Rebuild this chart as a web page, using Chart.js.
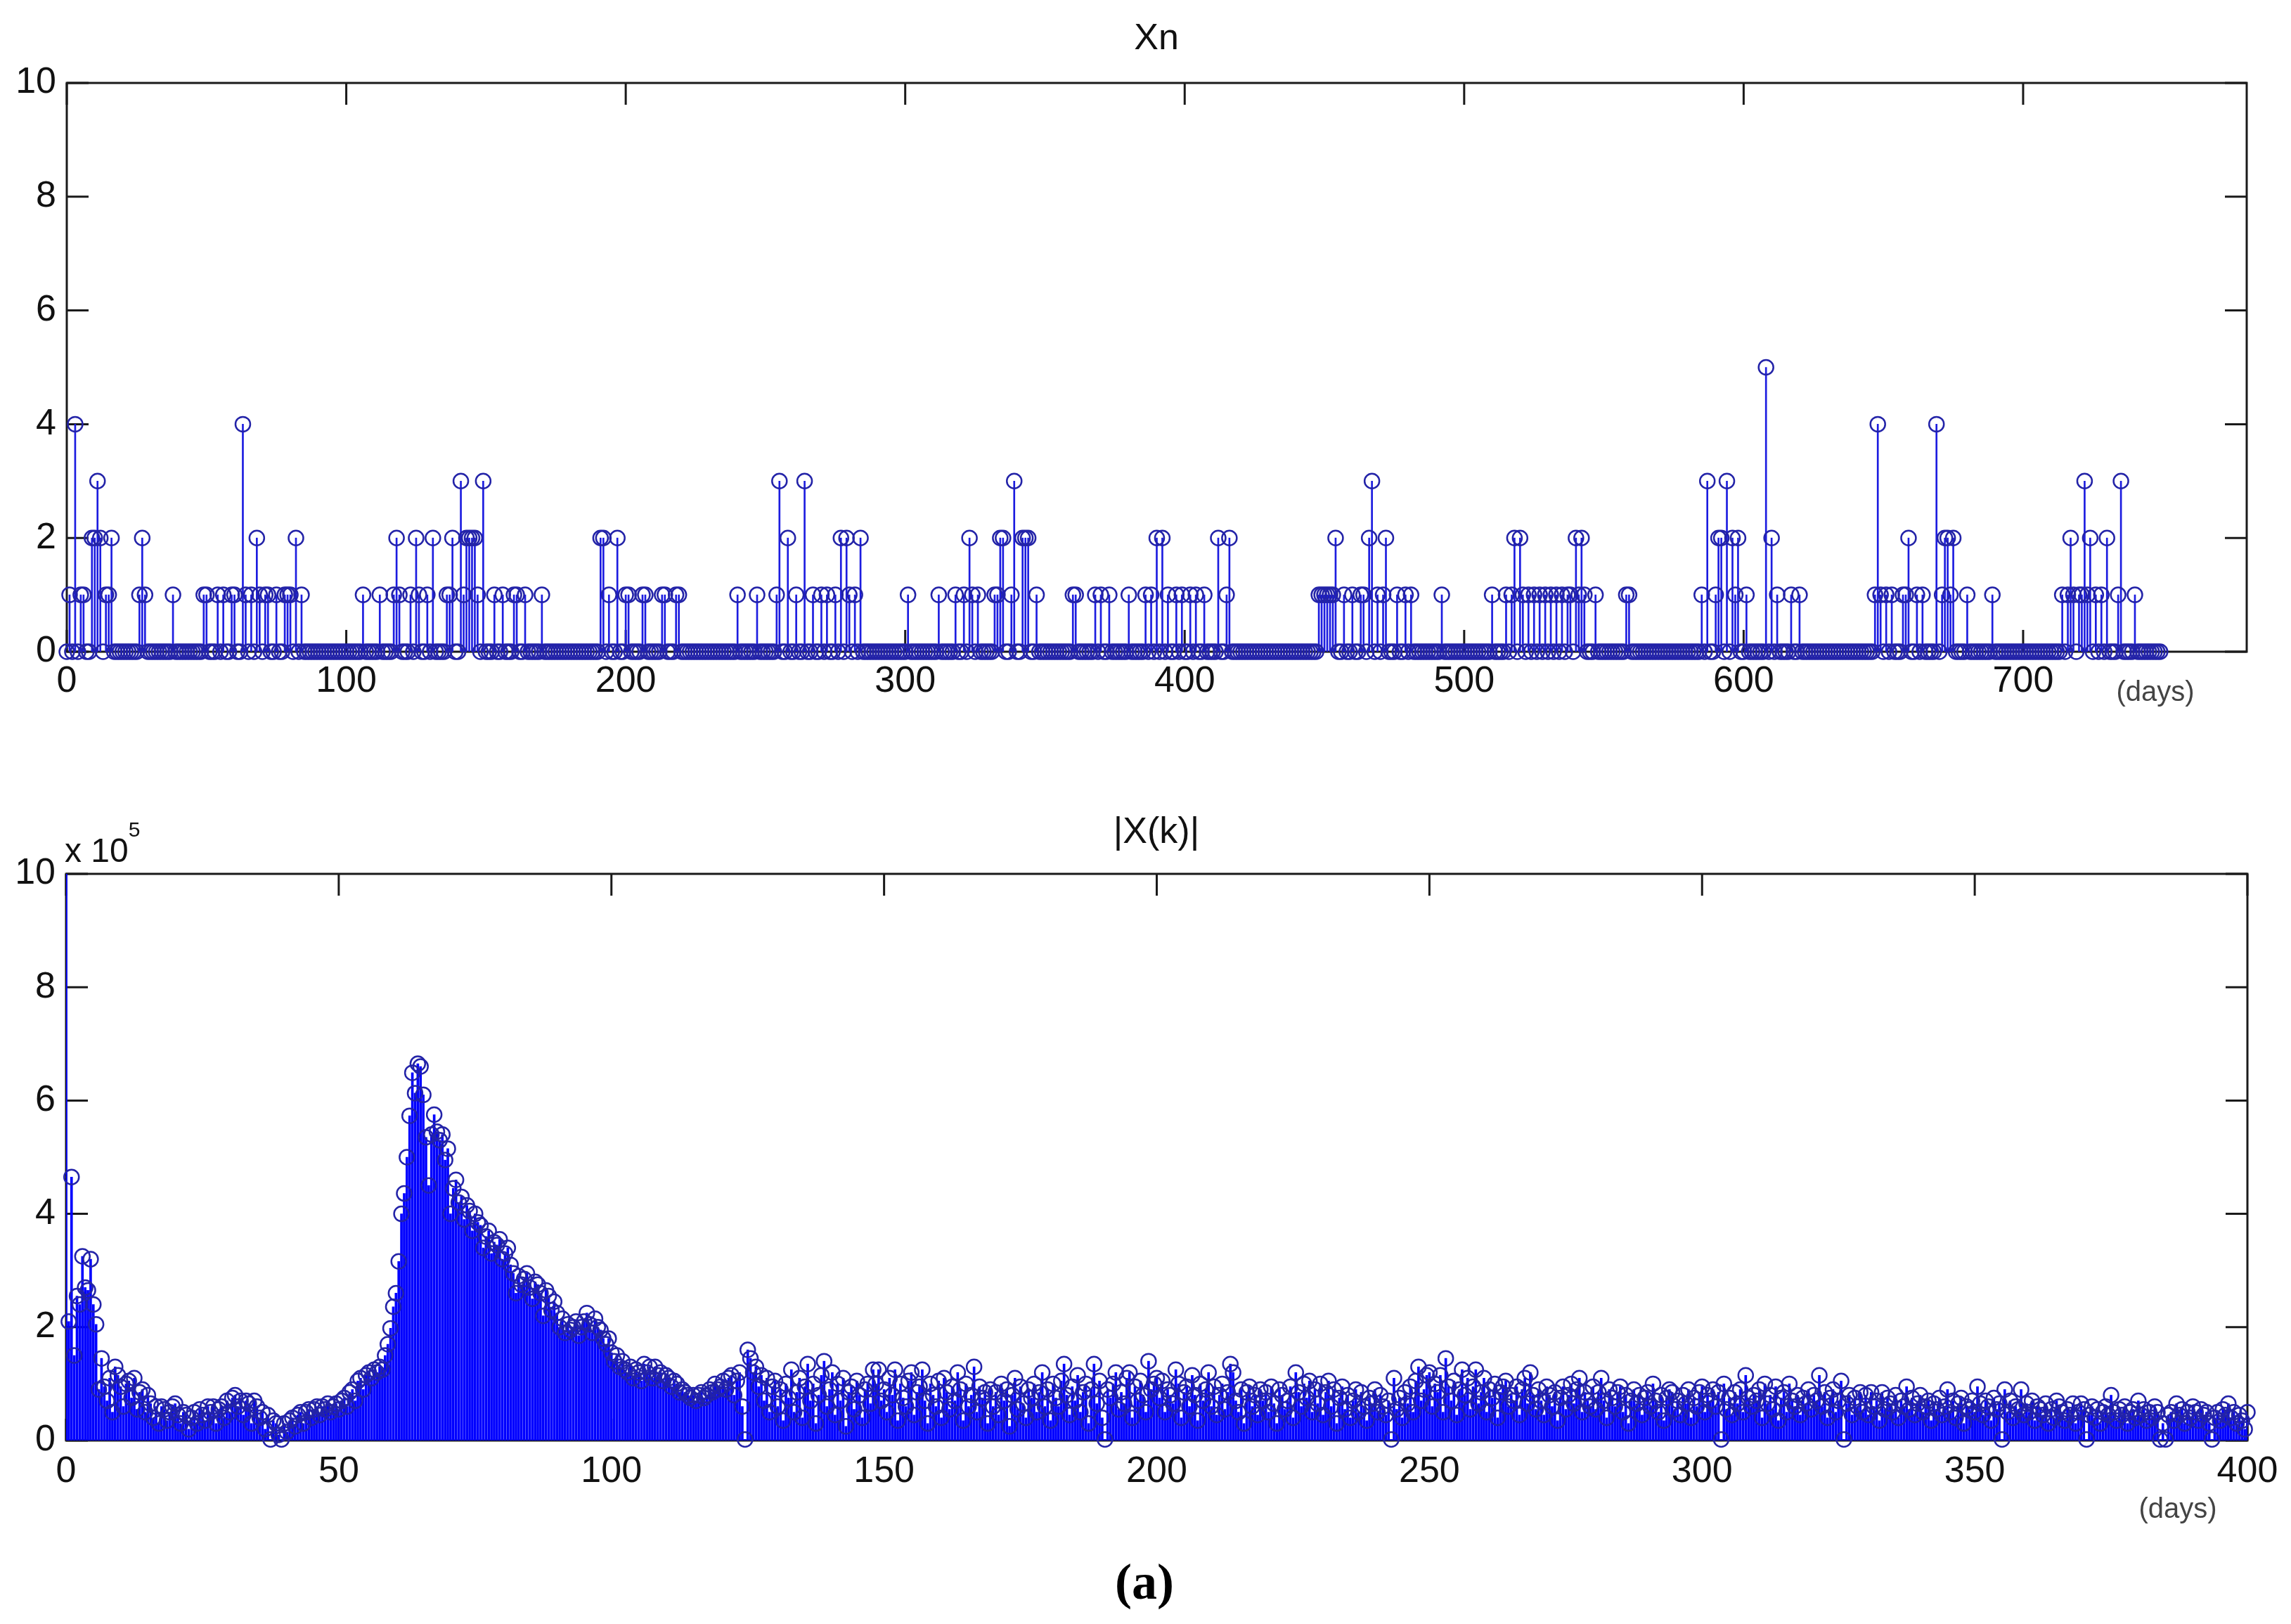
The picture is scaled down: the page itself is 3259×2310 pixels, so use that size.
<!DOCTYPE html>
<html lang="en">
<head>
  <meta charset="UTF-8">
  <title>Xn and |X(k)|</title>
  <script src="https://cdn.jsdelivr.net/npm/chart.js"></script>
  <style>
    body { margin: 0; background: #fff; }
    #page {
      position: relative;
      width: 3259px;
      height: 2310px;
      background: #fff;
      font-family: Arial, "Liberation Sans", sans-serif;
      color: #111;
    }
    canvas { position: absolute; left: 0; }
    #topChart { top: 0; }
    #bottomChart { top: 1070px; }
    .label {
      position: absolute;
      line-height: 1;
      white-space: nowrap;
      transform: translate(-50%, -50%);
    }
    .plot-title { font-size: 52px; }
    .days { font-size: 40px; color: #444; }
    .exponent { position: absolute; left: 92px; top: 1186px; font-size: 48px; line-height: 1; }
    .exponent span { position: relative; top: -36px; font-size: 30px; }
    .panel-label {
      font-family: "Liberation Serif", "Times New Roman", serif;
      font-weight: bold;
      font-size: 72px;
      color: #000;
    }
  </style>
</head>
<body>
<div id="page">
  <canvas id="topChart" width="3259" height="1070"></canvas>
  <canvas id="bottomChart" width="3259" height="1100"></canvas>

  <div class="label plot-title" style="left:1645px; top:52px;">Xn</div>
  <div class="label days" style="left:3066px; top:983px;">(days)</div>

  <div class="label plot-title" style="left:1645px; top:1181px;">|X(k)|</div>
  <div class="exponent">x 10<span>5</span></div>
  <div class="label days" style="left:3098px; top:2145px;">(days)</div>

  <div class="label panel-label" style="left:1628px; top:2250px;">(a)</div>
</div>

<script>
  // ---- Xn: days with a non-zero count, as [day, count]; all other days are 0
  const xnEvents = [
    [1,1],[3,4],[5,1],[6,1],[9,2],[10,2],[11,3],[12,2],[14,1],[15,1],[16,2],
    [26,1],[27,2],[28,1],[38,1],[49,1],[50,1],[54,1],[56,1],[59,1],[60,1],
    [63,4],[64,1],[66,1],[68,2],[69,1],[71,1],[72,1],[75,1],[78,1],[79,1],
    [80,1],[82,2],[84,1],
    [106,1],[112,1],[117,1],[118,2],[119,1],[123,1],[125,2],[126,1],[129,1],
    [131,2],[136,1],[137,1],[138,2],[141,3],[142,1],[143,2],[144,2],[145,2],
    [146,2],[147,1],[149,3],[153,1],[156,1],[160,1],[161,1],[164,1],[170,1],
    [191,2],[192,2],[194,1],[197,2],
    [200,1],[201,1],[206,1],[207,1],[213,1],[214,1],[218,1],[219,1],[240,1],
    [247,1],[254,1],[255,3],[258,2],[261,1],[264,3],[267,1],[270,1],[272,1],
    [275,1],[277,2],[279,2],[280,1],[282,1],[284,2],
    [301,1],[312,1],[318,1],[321,1],[323,2],[324,1],[326,1],[332,1],[333,1],
    [334,2],[335,2],[338,1],[339,3],[342,2],[343,2],[344,2],[347,1],[360,1],
    [361,1],[368,1],[370,1],[373,1],[380,1],[386,1],[388,1],[390,2],[392,2],
    [394,1],[397,1],[399,1],
    [402,1],[404,1],[407,1],[412,2],[415,1],[416,2],[448,1],[449,1],[450,1],
    [451,1],[452,1],[453,1],[454,2],[457,1],[460,1],[463,1],[464,1],[466,2],
    [467,3],[469,1],[471,1],[472,2],[476,1],[479,1],[481,1],[492,1],
    [510,1],[515,1],[517,1],[518,2],[520,2],[521,1],[523,1],[525,1],[527,1],
    [529,1],[531,1],[533,1],[535,1],[537,1],[538,1],[540,2],[541,1],[542,2],
    [543,1],[547,1],[558,1],[559,1],[585,1],[587,3],[590,1],[591,2],[592,2],
    [594,3],[596,2],[597,1],[598,2],
    [601,1],[608,5],[610,2],[612,1],[617,1],[620,1],[647,1],[648,4],[649,1],
    [651,1],[653,1],[657,1],[658,1],[659,2],[662,1],[664,1],[669,4],[671,1],
    [672,2],[673,2],[674,1],[675,2],[680,1],[689,1],
    [714,1],[716,1],[717,2],[718,1],[720,1],[721,1],[722,3],[723,1],[724,2],
    [726,1],[728,1],[730,2],[734,1],[735,3],[740,1]
  ];
  const xnDayCount = 750;               // days 0..749 are plotted
  const xnTicksX = [0, 100, 200, 300, 400, 500, 600, 700];
  const xnTicksY = [0, 2, 4, 6, 8, 10];

  // ---- |X(k)|, in units of 1e5, one value every half day from 0 to 400
  const specStep = 0.5;
  const specValues = [
    10.6, 2.1, 4.65, 1.5, 2.55, 2.4, 3.25, 2.7, 2.65, 3.2, 2.4, 2.05, 0.9, 1.45, 0.95, 0.7, 1.1, 0.5, 1.3, 1.15,
    0.95, 0.6, 1.0, 1.05, 0.75, 1.1, 0.55, 0.85, 0.9, 0.5, 0.8, 0.65, 0.4, 0.6, 0.3, 0.6, 0.55, 0.35, 0.5, 0.6,
    0.65, 0.45, 0.3, 0.5, 0.45, 0.2, 0.4, 0.5, 0.3, 0.55, 0.45, 0.35, 0.6, 0.5, 0.6, 0.3, 0.55, 0.6, 0.4, 0.7,
    0.5, 0.75, 0.8, 0.6, 0.7, 0.45, 0.7, 0.65, 0.3, 0.7, 0.6, 0.4, 0.5, 0.2, 0.45, 0.02, 0.35, 0.3, 0.1, 0.02,
    0.3, 0.15, 0.35, 0.4, 0.25, 0.45, 0.5, 0.3, 0.5, 0.55, 0.4, 0.55, 0.6, 0.45, 0.6, 0.55, 0.65, 0.5, 0.6, 0.65,
    0.55, 0.7, 0.75, 0.6, 0.85, 0.9, 0.7, 1.05, 1.1, 0.9, 1.15, 1.2, 1.1, 1.25, 1.2, 1.3, 1.25, 1.5, 1.7, 1.98,
    2.36, 2.6, 3.16, 4.0, 4.36, 5.0, 5.73, 6.49, 6.13, 6.65, 6.6, 6.1, 5.35, 4.5, 5.4, 5.75, 5.45, 5.3, 5.4, 4.95,
    5.15, 4.0, 4.45, 4.6, 4.2, 4.3, 3.9, 4.15, 4.05, 3.7, 4.0, 3.85, 3.8, 3.4, 3.6, 3.7, 3.3, 3.5, 3.45, 3.55,
    3.2, 3.3, 3.4, 3.1, 2.95, 2.6, 2.9, 2.75, 2.85, 2.95, 2.7, 2.5, 2.8, 2.75, 2.6, 2.2, 2.65, 2.55, 2.3, 2.45,
    2.25, 2.0, 2.15, 1.9, 2.05, 1.95, 2.0, 2.1, 1.85, 2.0, 2.1, 2.25, 2.05, 1.9, 2.15, 2.0, 1.95, 1.8, 1.7, 1.8,
    1.55, 1.4, 1.5, 1.3, 1.4, 1.25, 1.2, 1.3, 1.1, 1.25, 1.2, 1.05, 1.35, 1.2, 1.3, 1.1, 1.3, 1.15, 1.2, 1.05,
    1.15, 1.1, 0.95, 1.05, 1.0, 0.85, 0.9, 0.85, 0.8, 0.75, 0.8, 0.7, 0.8, 0.85, 0.75, 0.8, 0.9, 0.85, 1.0, 0.9,
    0.95, 1.05, 0.9, 1.1, 1.15, 0.8, 1.05, 1.2, 0.6, 0.02, 1.6, 1.45, 1.2, 1.3, 0.95, 1.15, 0.7, 1.1, 0.5, 0.95,
    1.05, 0.6, 0.9, 0.35, 1.0, 0.75, 1.25, 0.5, 0.85, 1.1, 0.4, 0.95, 1.35, 0.7, 1.0, 0.3, 0.8, 1.15, 1.4, 0.6,
    0.9, 1.2, 0.45, 1.0, 0.7, 1.1, 0.25, 0.85, 0.95, 0.55, 1.05, 0.8, 0.4, 0.9, 1.0, 0.65, 1.25, 1.0, 1.25, 0.7,
    0.9, 0.5, 1.1, 0.8, 1.25, 0.35, 1.0, 0.75, 0.6, 1.05, 1.2, 0.45, 0.85, 0.95, 1.25, 0.7, 0.3, 1.0, 0.8, 0.6,
    1.05, 0.4, 1.1, 0.85, 0.55, 0.95, 0.7, 1.2, 0.9, 0.35, 1.0, 0.6, 0.8, 1.3, 0.5, 0.95, 0.75, 0.85, 0.3, 0.9,
    0.6, 0.85, 0.45, 1.0, 0.7, 0.9, 0.25, 0.8, 1.1, 0.55, 0.95, 0.65, 0.4, 0.9, 0.75, 1.0, 0.5, 0.85, 1.2, 0.6,
    0.9, 0.35, 1.0, 0.75, 0.6, 1.05, 1.35, 0.8, 0.45, 0.95, 0.7, 1.15, 0.5, 0.85, 1.0, 0.3, 0.9, 1.35, 0.65, 1.05,
    0.4, 0.02, 0.9, 0.75, 1.0, 1.2, 0.55, 0.85, 0.65, 1.1, 1.2, 0.4, 0.95, 0.7, 1.05, 0.8, 0.5, 1.4, 0.9, 1.0,
    1.1, 0.75, 1.05, 0.5, 0.9, 0.8, 0.65, 1.25, 1.0, 0.4, 0.85, 0.95, 0.6, 1.15, 0.8, 0.35, 1.0, 0.7, 0.9, 1.2,
    0.6, 0.95, 0.45, 0.8, 1.0, 0.55, 0.85, 1.35, 1.2, 0.7, 0.5, 0.9, 0.3, 0.85, 0.95, 0.6, 0.8, 0.45, 0.9, 0.7,
    0.85, 0.5, 0.95, 0.65, 0.3, 0.9, 0.8, 0.55, 0.7, 0.95, 0.4, 1.2, 0.85, 0.6, 1.0, 0.75, 1.05, 0.5, 0.9, 0.65,
    1.0, 0.45, 0.85, 1.05, 0.6, 0.9, 0.3, 0.75, 0.95, 0.55, 0.8, 0.4, 0.7, 0.9, 0.5, 0.85, 0.6, 0.35, 0.75, 0.65,
    0.9, 0.5, 0.8, 0.6, 0.45, 0.7, 0.02, 1.1, 0.55, 0.75, 0.4, 0.85, 0.65, 0.95, 0.5, 1.05, 1.3, 0.7, 0.9, 1.15,
    1.2, 0.6, 1.0, 0.85, 1.15, 0.5, 1.45, 0.95, 0.7, 1.05, 0.45, 0.9, 1.25, 0.8, 1.1, 0.55, 0.95, 1.25, 0.65, 0.85,
    1.1, 0.5, 0.9, 0.75, 1.0, 0.4, 0.85, 0.95, 1.05, 0.6, 0.8, 0.7, 0.95, 0.45, 0.9, 1.1, 0.65, 1.2, 0.8, 0.55,
    0.9, 0.7, 0.45, 0.95, 0.8, 0.6, 0.85, 0.35, 0.75, 0.95, 0.55, 0.8, 1.0, 0.65, 0.9, 1.1, 0.5, 0.85, 0.7, 0.6,
    0.95, 0.55, 0.85, 1.1, 0.7, 0.4, 0.9, 0.75, 0.6, 0.85, 0.95, 0.5, 0.8, 0.3, 0.7, 0.9, 0.65, 0.8, 0.45, 0.75,
    0.85, 0.6, 1.0, 0.7, 0.5, 0.8, 0.35, 0.75, 0.9, 0.85, 0.55, 0.7, 0.45, 0.8, 0.65, 0.9, 0.4, 0.75, 0.6, 0.85,
    0.95, 0.5, 0.8, 0.7, 0.9, 0.6, 0.85, 0.02, 1.0, 0.55, 0.75, 0.45, 0.85, 0.65, 0.9, 0.5, 1.15, 0.75, 0.6, 0.8,
    0.7, 0.9, 0.4, 1.0, 0.65, 0.8, 0.55, 0.95, 0.35, 0.75, 0.85, 0.5, 1.0, 0.7, 0.6, 0.8, 0.45, 0.75, 0.65, 0.9,
    0.55, 0.8, 0.7, 1.15, 0.6, 0.85, 0.4, 0.75, 0.9, 0.5, 0.7, 1.05, 0.02, 0.65, 0.8, 0.45, 0.75, 0.6, 0.85, 0.5,
    0.8, 0.45, 0.85, 0.6, 0.7, 0.35, 0.85, 0.55, 0.75, 0.65, 0.5, 0.8, 0.4, 0.7, 0.6, 0.95, 0.55, 0.75, 0.45, 0.65,
    0.8, 0.5, 0.6, 0.7, 0.35, 0.65, 0.55, 0.75, 0.45, 0.6, 0.9, 0.5, 0.7, 0.4, 0.65, 0.75, 0.3, 0.6, 0.55, 0.7,
    0.5, 0.95, 0.65, 0.45, 0.7, 0.6, 0.35, 0.75, 0.55, 0.65, 0.02, 0.9, 0.5, 0.7, 0.4, 0.6, 0.55, 0.9, 0.45, 0.65,
    0.5, 0.7, 0.35, 0.6, 0.55, 0.45, 0.65, 0.3, 0.55, 0.4, 0.7, 0.6, 0.5, 0.35, 0.55, 0.45, 0.65, 0.3, 0.5, 0.65,
    0.55, 0.02, 0.45, 0.6, 0.4, 0.55, 0.3, 0.5, 0.6, 0.45, 0.8, 0.5, 0.35, 0.55, 0.45, 0.6, 0.3, 0.5, 0.55, 0.4,
    0.7, 0.45, 0.55, 0.35, 0.5, 0.4, 0.6, 0.5, 0.02, 0.3, 0.02, 0.45, 0.5, 0.35, 0.65, 0.45, 0.55, 0.3, 0.5, 0.4,
    0.6, 0.5, 0.35, 0.55, 0.45, 0.5, 0.3, 0.02, 0.4, 0.5, 0.35, 0.55, 0.45, 0.65, 0.4, 0.5, 0.3, 0.45, 0.35, 0.2,
    0.5
  ];
  const specTicksX = [0, 50, 100, 150, 200, 250, 300, 350, 400];
  const specTicksY = [0, 2, 4, 6, 8, 10];

  // ---- build the point lists
  const xnCounts = new Map(xnEvents);
  const xnPoints = [];
  for (let d = 0; d < xnDayCount; d++) {
    xnPoints.push({ x: d, y: xnCounts.get(d) || 0 });
  }
  const xnStems = xnEvents.map(([d, c]) => ({ x: d, y: c }));
  const specPoints = specValues.map((v, i) => ({ x: i * specStep, y: v }));

  const TICK_LEN = 31;
  const tickFont = { family: 'Arial, "Liberation Sans", sans-serif', size: 52 };

  // box around the plot and short inward ticks on all four sides, like matlab
  const boxAxes = {
    id: 'boxAxes',
    beforeDatasetsDraw(chart) {
      const { ctx, chartArea: a, scales: { x, y } } = chart;
      ctx.save();
      ctx.strokeStyle = '#1a1a1a';
      ctx.lineWidth = 3;
      ctx.strokeRect(a.left, a.top, a.right - a.left, a.bottom - a.top);
      ctx.beginPath();
      x.ticks.forEach(t => {
        const px = x.getPixelForValue(t.value);
        ctx.moveTo(px, a.bottom); ctx.lineTo(px, a.bottom - TICK_LEN);
        ctx.moveTo(px, a.top);    ctx.lineTo(px, a.top + TICK_LEN);
      });
      y.ticks.forEach(t => {
        const py = y.getPixelForValue(t.value);
        ctx.moveTo(a.left, py);  ctx.lineTo(a.left + TICK_LEN, py);
        ctx.moveTo(a.right, py); ctx.lineTo(a.right - TICK_LEN, py);
      });
      ctx.stroke();
      ctx.restore();
    }
  };

  function axis(min, max, tickValues, pad, size, isX) {
    return {
      type: 'linear',
      min: min,
      max: max,
      offset: false,
      grid: { display: false, drawTicks: false },
      border: { display: false },
      ticks: { font: tickFont, color: '#111', padding: pad, maxRotation: 0, autoSkip: false },
      afterBuildTicks: s => { s.ticks = tickValues.map(v => ({ value: v })); },
      afterFit: s => { if (isX) { s.height = size; } else { s.width = size; } }
    };
  }

  function stemChart(id, stems, points, o) {
    return new Chart(document.getElementById(id), {
      type: 'bar',
      data: {
        datasets: [
          {
            type: 'bar',
            data: stems,
            backgroundColor: o.stemColor,
            barThickness: o.stemWidth,
            borderWidth: 0,
            clip: 0,
            order: 2
          },
          {
            type: 'scatter',
            data: points,
            pointStyle: 'circle',
            pointRadius: c => (c.raw && c.raw.y > o.yMax ? 0 : 10.5),
            pointBorderWidth: 2.5,
            pointBorderColor: o.markerColor,
            pointBackgroundColor: 'rgba(0,0,0,0)',
            clip: false,
            order: 1
          }
        ]
      },
      options: {
        responsive: false,
        maintainAspectRatio: false,
        devicePixelRatio: 1,
        animation: false,
        events: [],
        layout: { padding: o.padding },
        plugins: { legend: { display: false }, title: { display: false }, tooltip: { enabled: false } },
        scales: {
          x: axis(0, o.xMax, o.ticksX, o.xPad, 80, true),
          y: axis(0, o.yMax, o.ticksY, 15, o.left, false)
        }
      },
      plugins: [boxAxes]
    });
  }

  stemChart('topChart', xnStems, xnPoints, {
    xMax: 780, yMax: 10, ticksX: xnTicksX, ticksY: xnTicksY,
    xPad: 11, left: 95,
    padding: { top: 118, right: 63, bottom: 63, left: 0 },
    stemColor: '#1c1ce0', stemWidth: 2, markerColor: '#2323a8'
  });

  stemChart('bottomChart', specPoints, specPoints, {
    xMax: 400, yMax: 10, ticksX: specTicksX, ticksY: specTicksY,
    xPad: 13, left: 94,
    padding: { top: 173, right: 62, bottom: 41, left: 0 },
    stemColor: '#0000ff', stemWidth: 3, markerColor: '#2323a8'
  });
</script>
</body>
</html>
